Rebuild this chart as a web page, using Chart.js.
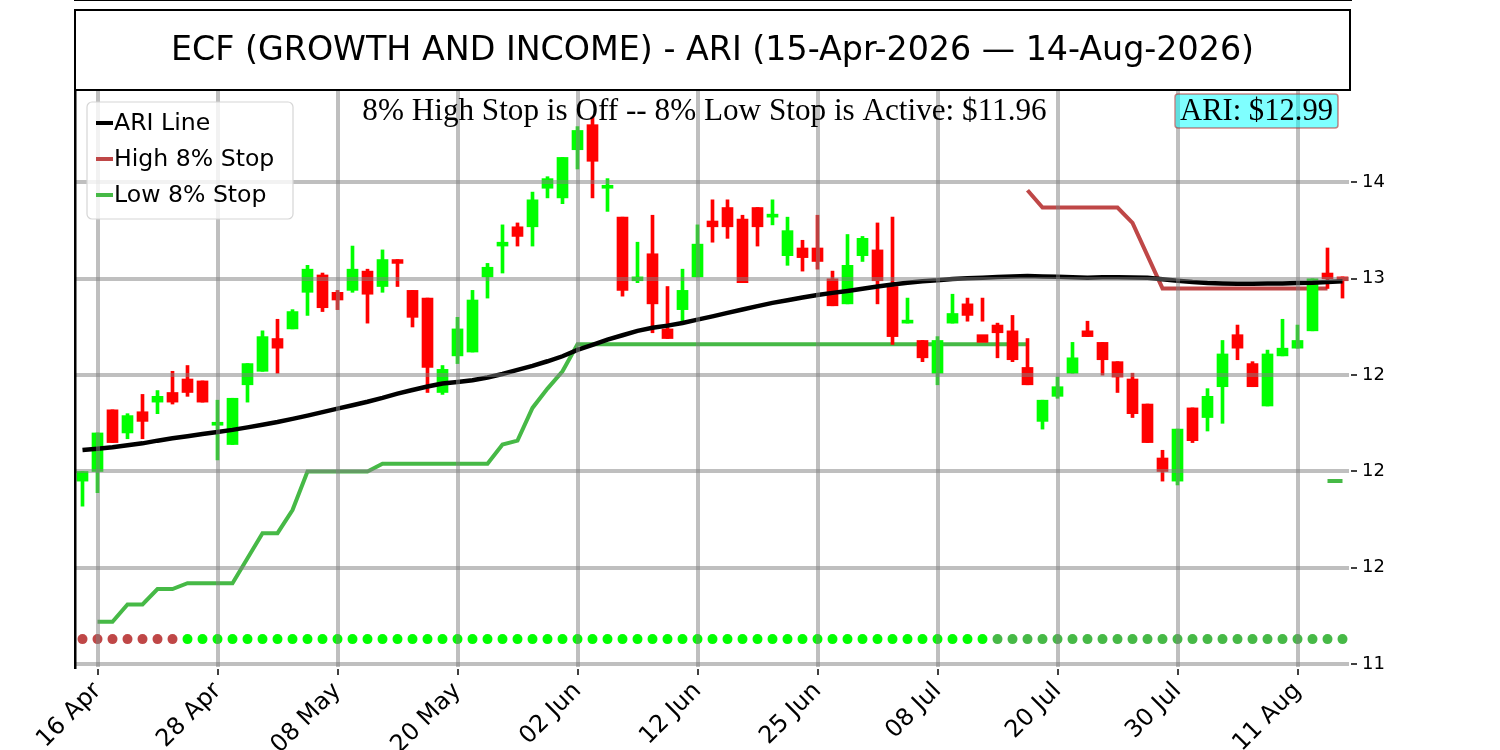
<!DOCTYPE html>
<html>
<head>
<meta charset="utf-8">
<title>ECF - ARI</title>
<script src="https://cdn.jsdelivr.net/npm/chart.js@4.4.1/dist/chart.umd.min.js"></script>
<style>
  html, body { margin: 0; padding: 0; background: #fff; }
  #wrap { width: 1500px; height: 750px; }
</style>
</head>
<body>
<div id="wrap"><canvas id="chart" width="1500" height="750"></canvas></div>
<script>
// trading days shown on the x axis
const dates = [
  '15 Apr','16 Apr','17 Apr','20 Apr','21 Apr','22 Apr','23 Apr','24 Apr','27 Apr','28 Apr','29 Apr','30 Apr',
  '01 May','04 May','05 May','06 May','07 May','08 May','11 May','12 May','13 May','14 May','15 May','18 May',
  '19 May','20 May','21 May','22 May','26 May','27 May','28 May','29 May',
  '01 Jun','02 Jun','03 Jun','04 Jun','05 Jun','08 Jun','09 Jun','10 Jun','11 Jun','12 Jun','15 Jun','16 Jun',
  '17 Jun','18 Jun','22 Jun','23 Jun','24 Jun','25 Jun','26 Jun','29 Jun','30 Jun',
  '01 Jul','02 Jul','06 Jul','07 Jul','08 Jul','09 Jul','10 Jul','13 Jul','14 Jul','15 Jul','16 Jul','17 Jul',
  '20 Jul','21 Jul','22 Jul','23 Jul','24 Jul','27 Jul','28 Jul','29 Jul','30 Jul','31 Jul',
  '03 Aug','04 Aug','05 Aug','06 Aug','07 Aug','10 Aug','11 Aug','12 Aug','13 Aug','14 Aug'
];
const tickDates = ['16 Apr','28 Apr','08 May','20 May','02 Jun','12 Jun','25 Jun','08 Jul','20 Jul','30 Jul','11 Aug'];
const yTicks = [11, 11.5, 12, 12.5, 13, 13.5];

const opens = [
  11.95,12.00,12.32,12.20,12.31,12.36,12.41,12.48,12.47,12.24,
  12.14,12.45,12.52,12.69,12.74,12.93,13.02,12.93,12.94,13.04,
  12.96,13.10,12.94,12.90,12.41,12.60,12.62,13.01,13.17,13.27,
  13.27,13.47,13.42,13.67,13.80,13.47,13.32,12.99,13.13,12.74,
  12.84,13.01,13.30,13.37,13.31,13.37,13.32,13.12,13.16,13.16,
  13.00,12.87,13.12,13.15,12.96,12.77,12.68,12.51,12.77,12.87,
  12.71,12.76,12.73,12.54,12.26,12.39,12.51,12.73,12.67,12.57,
  12.48,12.35,12.07,11.95,12.33,12.28,12.44,12.71,12.56,12.34,
  12.60,12.64,12.73,13.03,13.01
];
const highs = [
  12.00,12.20,12.32,12.30,12.40,12.42,12.52,12.55,12.47,12.37,
  12.38,12.56,12.73,12.79,12.84,13.07,13.03,12.94,13.17,13.05,
  13.15,13.10,12.94,12.90,12.55,12.80,12.94,13.08,13.28,13.29,
  13.45,13.53,13.63,13.79,13.84,13.52,13.32,13.19,13.33,12.96,
  13.05,13.28,13.41,13.41,13.33,13.37,13.41,13.32,13.20,13.33,
  13.04,13.23,13.22,13.29,13.32,12.90,12.68,12.70,12.92,12.90,
  12.90,12.77,12.81,12.69,12.37,12.49,12.67,12.78,12.67,12.57,
  12.51,12.35,12.11,12.22,12.33,12.43,12.68,12.76,12.57,12.63,
  12.79,12.76,13.00,13.16,13.01
];
const lows = [
  11.82,11.89,12.15,12.17,12.17,12.30,12.35,12.39,12.36,12.06,
  12.14,12.36,12.52,12.51,12.74,12.81,12.83,12.84,12.93,12.77,
  12.93,12.96,12.75,12.41,12.40,12.56,12.62,12.90,13.03,13.17,
  13.17,13.42,13.39,13.57,13.42,13.35,12.91,12.98,12.72,12.69,
  12.77,13.01,13.19,13.21,12.98,13.17,13.28,13.07,13.04,13.05,
  12.86,12.87,13.09,12.87,12.66,12.77,12.57,12.45,12.77,12.78,
  12.78,12.59,12.57,12.45,12.22,12.38,12.51,12.70,12.50,12.41,
  12.28,12.15,11.95,11.93,12.15,12.21,12.25,12.58,12.44,12.34,
  12.60,12.64,12.73,12.95,12.90
];
const closes = [
  12.00,12.20,12.15,12.29,12.26,12.39,12.36,12.41,12.36,12.25,
  12.38,12.56,12.70,12.64,12.83,13.05,12.85,12.89,13.05,12.92,
  13.10,13.08,12.80,12.54,12.53,12.74,12.89,13.06,13.19,13.22,
  13.41,13.52,13.63,13.77,13.61,13.48,12.94,13.01,12.87,12.69,
  12.94,13.18,13.27,13.27,12.98,13.27,13.33,13.25,13.11,13.09,
  12.86,13.07,13.21,12.99,12.70,12.78,12.59,12.68,12.82,12.81,
  12.67,12.72,12.58,12.45,12.37,12.44,12.59,12.70,12.58,12.49,
  12.30,12.15,12.00,12.22,12.16,12.39,12.61,12.64,12.44,12.61,
  12.64,12.68,13.00,13.00,12.99
];

const ariLine = [
  12.111,12.118,12.126,12.136,12.146,12.160,12.172,12.183,12.194,12.205,
  12.216,12.229,12.243,12.257,12.273,12.290,12.308,12.326,12.344,12.362,
  12.382,12.404,12.423,12.441,12.457,12.465,12.474,12.488,12.506,12.527,
  12.548,12.572,12.598,12.631,12.657,12.684,12.707,12.730,12.746,12.757,
  12.771,12.788,12.805,12.823,12.841,12.858,12.875,12.889,12.903,12.916,
  12.927,12.937,12.948,12.960,12.971,12.979,12.987,12.992,12.999,13.003,
  13.006,13.010,13.012,13.014,13.012,13.011,13.008,13.006,13.008,13.008,
  13.007,13.006,12.998,12.990,12.983,12.978,12.976,12.975,12.975,12.976,
  12.976,12.978,12.980,12.984,12.987
];
const highStop = [
  null,null,null,null,null,null,null,null,null,null,
  null,null,null,null,null,null,null,null,null,null,
  null,null,null,null,null,null,null,null,null,null,
  null,null,null,null,null,null,null,null,null,null,
  null,null,null,null,null,null,null,null,null,null,
  null,null,null,null,null,null,null,null,null,null,
  null,null,null,13.46,13.37,13.37,13.37,13.37,13.37,13.37,
  13.29,13.12,12.95,12.95,12.95,12.95,12.95,12.95,12.95,12.95,
  12.95,12.95,12.95,12.95,null
];
const lowStop = [
  null,11.22,11.22,11.31,11.31,11.39,11.39,11.42,11.42,11.42,
  11.42,11.55,11.68,11.68,11.80,12.00,12.00,12.00,12.00,12.00,
  12.04,12.04,12.04,12.04,12.04,12.04,12.04,12.04,12.14,12.16,
  12.33,12.43,12.52,12.66,12.66,12.66,12.66,12.66,12.66,12.66,
  12.66,12.66,12.66,12.66,12.66,12.66,12.66,12.66,12.66,12.66,
  12.66,12.66,12.66,12.66,12.66,12.66,12.66,12.66,12.66,12.66,
  12.66,12.66,12.66,12.66,null,null,null,null,null,null,
  null,null,null,null,null,null,null,null,null,null,
  null,null,null,11.95,11.95
];
// 0 = high stop state, 1 = buy, 2 = hold
const signal = [
  0,0,0,0,0,0,0,1,1,1,
  1,1,1,1,1,1,1,1,1,1,
  1,1,1,1,1,1,1,1,1,1,
  1,1,1,1,1,1,1,1,1,1,
  1,1,1,1,1,1,1,1,1,1,
  1,1,1,1,1,1,1,1,1,1,
  1,2,2,2,2,2,2,2,2,2,
  2,2,2,2,2,2,2,2,2,2,
  2,2,2,2,2
];
const signalLevel = 11.13;
const activeLowStop = 11.96;

const UP = '#00ff00';
const DOWN = '#ff0000';
const HIGH_COLOR = '#bf4747';
const LOW_COLOR = '#46b946';
const signalColors = [HIGH_COLOR, '#00ff00', LOW_COLOR];
const GRID = 'rgba(128,128,128,0.5)';

// matplotlib style %.0f (round half to even)
function roundHalfEven(v) {
  var f = Math.floor(v);
  var d = v - f;
  if (Math.abs(d - 0.5) < 1e-9) {
    return (f % 2 === 0) ? f : f + 1;
  }
  return Math.round(v);
}

function roundedRect(ctx, x, y, w, h, r) {
  ctx.beginPath();
  ctx.moveTo(x + r, y);
  ctx.lineTo(x + w - r, y);
  ctx.arcTo(x + w, y, x + w, y + r, r);
  ctx.lineTo(x + w, y + h - r);
  ctx.arcTo(x + w, y + h, x + w - r, y + h, r);
  ctx.lineTo(x + r, y + h);
  ctx.arcTo(x, y + h, x, y + h - r, r);
  ctx.lineTo(x, y + r);
  ctx.arcTo(x, y, x + r, y, r);
  ctx.closePath();
}

const candleColors = opens.map((o, i) => closes[i] >= o ? UP : DOWN);
const xy = arr => arr.map((v, i) => ({x: i, y: v}));

const decorPlugin = {
  id: 'decor',
  afterDraw(chart) {
    const ctx = chart.ctx;
    const ca = chart.chartArea;
    const left = chart.scales.x.left;
    const cx = (ca.left + ca.right) / 2;
    ctx.save();

    // keep the margin left of the axes blank
    ctx.fillStyle = '#fff';
    ctx.fillRect(0, 0, 20, ca.bottom + 12);

    // left spine
    ctx.fillStyle = '#000';
    ctx.fillRect(left - 1, ca.top, 2.5, ca.bottom - ca.top + 1);

    // title box
    ctx.strokeStyle = '#000';
    ctx.lineWidth = 2;
    ctx.strokeRect(left, 10, ca.right - left, ca.top - 10);
    ctx.font = '33.3px "DejaVu Sans"';
    ctx.textAlign = 'center';
    ctx.textBaseline = 'middle';
    ctx.fillText('ECF (GROWTH AND INCOME) - ARI (15-Apr-2026 \u2014 14-Aug-2026)', cx, 51);

    // stop status text
    ctx.font = '31.2px "Liberation Serif", "Times New Roman", serif';
    ctx.textBaseline = 'alphabetic';
    ctx.fillText('8% High Stop is Off -- 8% Low Stop is Active: $' + activeLowStop.toFixed(2), cx - 8, 120);

    // last price box
    ctx.font = '30.6px "Liberation Serif", "Times New Roman", serif';
    const priceText = 'ARI: $' + closes[closes.length - 1].toFixed(2);
    const tw = ctx.measureText(priceText).width;
    const bx = ca.right - 12 - (tw + 10);
    roundedRect(ctx, bx, 94, tw + 10, 34, 3);
    ctx.fillStyle = 'rgba(0,255,255,0.5)';
    ctx.fill();
    ctx.strokeStyle = 'rgba(178,34,34,0.55)';
    ctx.lineWidth = 1.5;
    ctx.stroke();
    ctx.fillStyle = '#000';
    ctx.textAlign = 'left';
    ctx.fillText(priceText, bx + 5, 120);

    // legend
    const items = chart.data.datasets.filter(d => d.inLegend);
    roundedRect(ctx, ca.left + 12, ca.top + 12, 206, 117, 5);
    ctx.fillStyle = 'rgba(255,255,255,0.8)';
    ctx.fill();
    ctx.strokeStyle = '#d6d6d6';
    ctx.lineWidth = 1.2;
    ctx.stroke();
    ctx.font = '23.6px "DejaVu Sans"';
    ctx.textBaseline = 'middle';
    items.forEach((d, k) => {
      const y = ca.top + 33 + k * 36;
      ctx.strokeStyle = d.borderColor;
      ctx.lineWidth = 4;
      ctx.beginPath();
      ctx.moveTo(ca.left + 21, y);
      ctx.lineTo(ca.left + 38, y);
      ctx.stroke();
      ctx.fillStyle = '#000';
      ctx.fillText(d.label, ca.left + 39, y + 1);
    });
    ctx.restore();
  }
};

new Chart(document.getElementById('chart'), {
  data: {
    datasets: [
      {
        type: 'line', label: 'ARI Line', inLegend: true, data: xy(ariLine),
        borderColor: '#000', borderWidth: 4.5, pointRadius: 0, tension: 0, order: 0
      },
      {
        type: 'bar', label: 'body', data: opens.map((o, i) => ({x: i, y: [o, closes[i]]})),
        backgroundColor: candleColors, barThickness: 11, minBarLength: 3, grouped: false, order: 1
      },
      {
        type: 'bar', label: 'wick', data: lows.map((l, i) => ({x: i, y: [l, highs[i]]})),
        backgroundColor: candleColors, barThickness: 3, grouped: false, order: 2
      },
      {
        type: 'line', label: 'High 8% Stop', inLegend: true, data: xy(highStop),
        borderColor: HIGH_COLOR, borderWidth: 4, pointRadius: 0, spanGaps: false, order: 3
      },
      {
        type: 'line', label: 'Low 8% Stop', inLegend: true, data: xy(lowStop),
        borderColor: LOW_COLOR, borderWidth: 4, pointRadius: 0, spanGaps: false, order: 3
      },
      {
        type: 'line', label: 'signal', data: signal.map((s, i) => ({x: i, y: signalLevel})),
        showLine: false, pointRadius: 5, pointBorderWidth: 0,
        pointBackgroundColor: signal.map(s => signalColors[s]), order: 4
      }
    ]
  },
  options: {
    responsive: false,
    devicePixelRatio: 1,
    animation: false,
    layout: { padding: { left: 75, top: 90, right: 0, bottom: 0 } },
    plugins: { legend: { display: false }, title: { display: false }, tooltip: { enabled: false } },
    scales: {
      x: {
        type: 'linear',
        position: 'bottom',
        offset: false,
        min: -0.5,
        max: dates.length - 0.5,
        afterBuildTicks: s => { s.ticks = tickDates.map(d => ({value: dates.indexOf(d)})); },
        afterFit: s => { s.height = 82; },
        ticks: {
          autoSkip: false, minRotation: 45, maxRotation: 45, padding: 2,
          color: '#000', font: { size: 24, family: 'DejaVu Sans' },
          callback: v => dates[v]
        },
        grid: { offset: false, color: GRID, lineWidth: 4, z: 1, tickLength: 7, tickColor: '#000', tickWidth: 1.5 },
        border: { display: true, color: '#000', width: 2 }
      },
      y: {
        type: 'linear',
        position: 'right',
        min: 10.98,
        max: 13.98,
        afterBuildTicks: s => { s.ticks = yTicks.map(v => ({value: v})); },
        afterFit: s => { s.width = 150; },
        ticks: {
          padding: 5, color: '#000', font: { size: 18, family: 'DejaVu Sans' },
          callback: v => String(roundHalfEven(v))
        },
        grid: { color: GRID, lineWidth: 4, z: 1, tickLength: 7, tickColor: '#000', tickWidth: 1.5 },
        border: { display: true, color: '#000', width: 2 }
      }
    }
  },
  plugins: [decorPlugin]
});
</script>
</body>
</html>
